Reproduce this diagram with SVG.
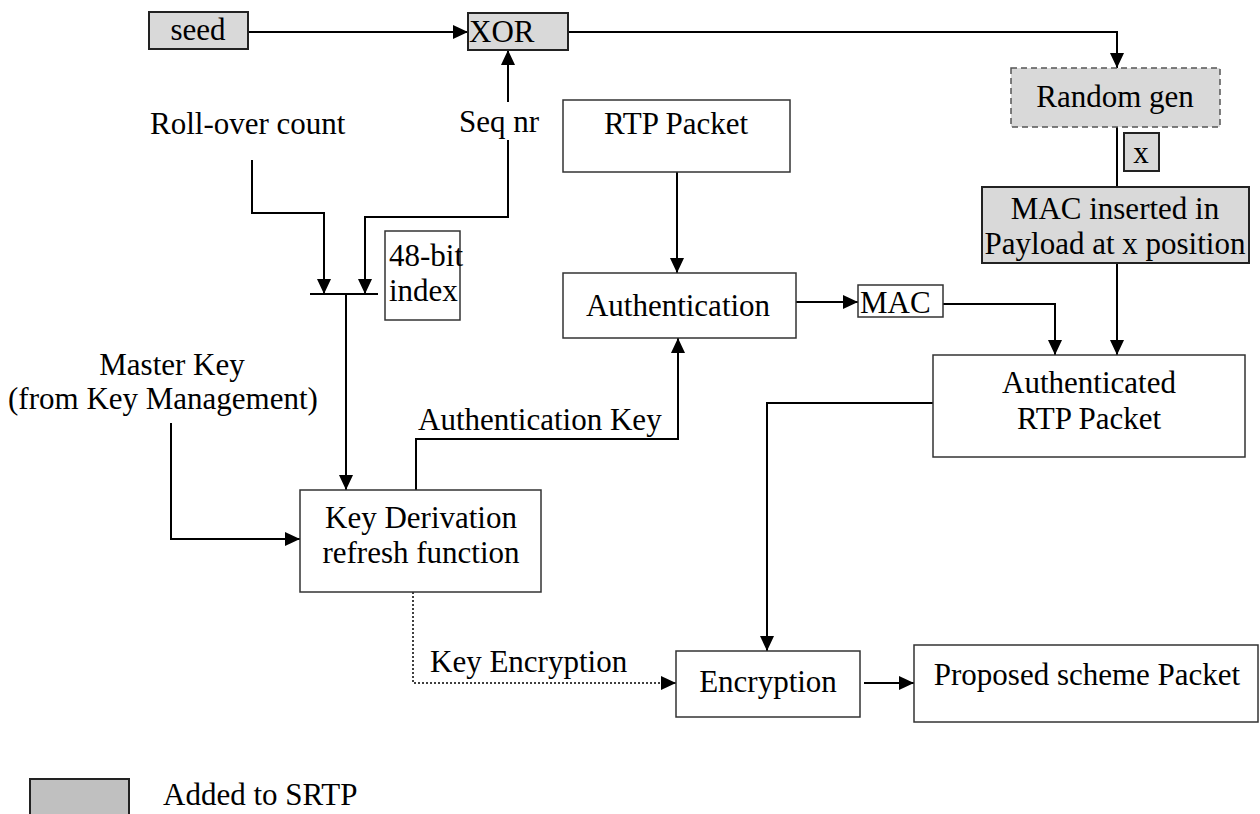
<svg xmlns="http://www.w3.org/2000/svg" width="1260" height="814" viewBox="0 0 1260 814">
  <style>
    text { font-family: "Liberation Serif", "DejaVu Serif", "Times New Roman", serif; font-size: 31px; fill: #000; }
    .mid { text-anchor: middle; }
    .box { fill: #fff; stroke: #333; stroke-width: 1.5; }
    .gray { fill: #d9d9d9; stroke: #222; stroke-width: 2; }
    .dash { fill: #d9d9d9; stroke: #555; stroke-width: 1.5; stroke-dasharray: 6 4; }
    .legend { fill: #c0c0c0; stroke: #222; stroke-width: 2; }
    .wire { fill: none; stroke: #000; stroke-width: 2; }
    .dotted { fill: none; stroke: #000; stroke-width: 1.5; stroke-dasharray: 2 2; }
  </style>
  <defs>
    <marker id="arrow" viewBox="0 0 10 10" refX="10" refY="5" markerWidth="15" markerHeight="14" markerUnits="userSpaceOnUse" orient="auto" preserveAspectRatio="none">
      <path d="M0,0 L10,5 L0,10 Z" fill="#000"/>
    </marker>
  </defs>

  <rect width="1260" height="814" fill="#fff"/>

  <!-- connectors -->
  <g id="connectors">
    <path class="wire" d="M248,32 H468" marker-end="url(#arrow)"/>
    <path class="wire" d="M568,32 H1117 V68" marker-end="url(#arrow)"/>
    <path class="wire" d="M1117,127 V187"/>
    <path class="wire" d="M1117,263 V355" marker-end="url(#arrow)"/>
    <path class="wire" d="M796,302 H858" marker-end="url(#arrow)"/>
    <path class="wire" d="M943,304 H1055 V355" marker-end="url(#arrow)"/>
    <path class="wire" d="M677,172 V273" marker-end="url(#arrow)"/>
    <path class="wire" d="M416,491 V439 H678 V338" marker-end="url(#arrow)"/>
    <path class="wire" d="M171,423 V539 H300" marker-end="url(#arrow)"/>
    <path class="wire" d="M252,160 V213 H324 V294" marker-end="url(#arrow)"/>
    <path class="wire" d="M508,102 V50" marker-end="url(#arrow)"/>
    <path class="wire" d="M508,140 V217 H365 V294" marker-end="url(#arrow)"/>
    <path class="wire" d="M310,294 H378"/>
    <path class="wire" d="M346,294 V490" marker-end="url(#arrow)"/>
    <path class="dotted" d="M413,592 V683 H676" marker-end="url(#arrow)"/>
    <path class="wire" d="M937,403 H767 V651" marker-end="url(#arrow)"/>
    <path class="wire" d="M864,683 H914" marker-end="url(#arrow)"/>
  </g>

  <!-- free labels -->
  <text x="150" y="134">Roll-over count</text>
  <text x="459" y="132">Seq nr</text>
  <text class="mid" x="172" y="375">Master Key</text>
  <text class="mid" x="163" y="409">(from Key Management)</text>
  <text x="418" y="430">Authentication Key</text>
  <text x="430" y="672">Key Encryption</text>

  <g id="seed">
    <rect class="gray" x="149" y="12" width="99" height="37"/>
    <text class="mid" x="198" y="40">seed</text>
  </g>
  <g id="xor">
    <rect class="gray" x="468" y="13" width="100" height="37"/>
    <text x="469" y="42">XOR</text>
  </g>
  <g id="random-gen">
    <rect class="dash" x="1011" y="68" width="209" height="59"/>
    <text class="mid" x="1115" y="107">Random gen</text>
  </g>
  <g id="x-label">
    <rect class="gray" x="1124" y="133" width="35" height="38"/>
    <text class="mid" x="1141" y="163">x</text>
  </g>
  <g id="mac-inserted">
    <rect class="gray" x="982" y="187" width="267" height="76"/>
    <text class="mid" x="1115" y="219">MAC inserted in</text>
    <text class="mid" x="1115" y="254">Payload at x position</text>
  </g>
  <g id="rtp-packet">
    <rect class="box" x="563" y="100" width="227" height="72"/>
    <text class="mid" x="676" y="134">RTP Packet</text>
  </g>
  <g id="authentication">
    <rect class="box" x="563" y="273" width="233" height="65"/>
    <text class="mid" x="678" y="316">Authentication</text>
  </g>
  <g id="mac">
    <rect class="box" x="858" y="285" width="85" height="32"/>
    <text x="860" y="313">MAC</text>
  </g>
  <g id="index">
    <rect class="box" x="385" y="231" width="75" height="89"/>
    <text x="389" y="266">48-bit</text>
    <text x="389" y="301">index</text>
  </g>
  <g id="authenticated-rtp">
    <rect class="box" x="933" y="355" width="312" height="102"/>
    <text class="mid" x="1089" y="393">Authenticated</text>
    <text class="mid" x="1089" y="429">RTP Packet</text>
  </g>
  <g id="key-derivation">
    <rect class="box" x="300" y="490" width="241" height="102"/>
    <text class="mid" x="421" y="528">Key Derivation</text>
    <text class="mid" x="421" y="563">refresh function</text>
  </g>
  <g id="encryption">
    <rect class="box" x="676" y="651" width="184" height="66"/>
    <text class="mid" x="768" y="692">Encryption</text>
  </g>
  <g id="proposed">
    <rect class="box" x="914" y="645" width="344" height="77"/>
    <text class="mid" x="1087" y="685">Proposed scheme Packet</text>
  </g>
  <g id="legend">
    <rect class="legend" x="30" y="779" width="99" height="40"/>
    <text x="163" y="805">Added to SRTP</text>
  </g>
</svg>
